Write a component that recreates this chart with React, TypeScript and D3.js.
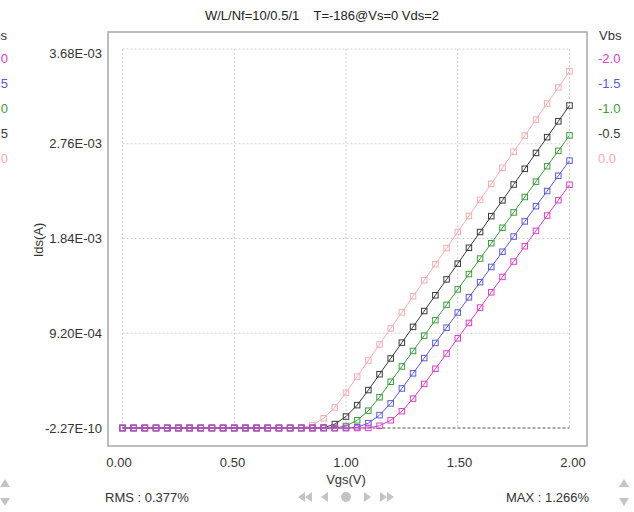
import React from "react";
import * as d3 from "d3";

const TITLE = "W/L/Nf=10/0.5/1    T=-186@Vs=0 Vds=2";
const X_TICKS = [0, 0.5, 1.0, 1.5, 2.0];
const X_TICK_LABELS = ["0.00", "0.50", "1.00", "1.50", "2.00"];
const Y_TICKS = [-2.27e-10, 9.2e-4, 1.84e-3, 2.76e-3, 3.68e-3];
const Y_TICK_LABELS = ["-2.27E-10", "9.20E-04", "1.84E-03", "2.76E-03", "3.68E-03"];
const VBS_LABELS = ["-2.0", "-1.5", "-1.0", "-0.5", "0.0"];
const VBS_COLORS = ["#e040c8", "#5a5ae0", "#3c9e3c", "#3a3a3a", "#ffacac"];

const VGS = [
  0.0, 0.05, 0.1, 0.15, 0.2, 0.25, 0.3, 0.35, 0.4, 0.45,
  0.5, 0.55, 0.6, 0.65, 0.7, 0.75, 0.8, 0.85, 0.9, 0.95,
  1.0, 1.05, 1.1, 1.15, 1.2, 1.25, 1.3, 1.35, 1.4, 1.45,
  1.5, 1.55, 1.6, 1.65, 1.7, 1.75, 1.8, 1.85, 1.9, 1.95, 2.0,
];

// Ids in mA
const IDS_VBS_M20 = [
  0, 0, 0, 0, 0, 0, 0, 0, 0, 0,
  0, 0, 0, 0, 0, 0, 0, 0, 0, 0,
  0, 0, 0.001, 0.022, 0.075, 0.163, 0.285, 0.428, 0.575, 0.723,
  0.871, 1.02, 1.169, 1.318, 1.467, 1.616, 1.765, 1.914, 2.063, 2.212, 2.362,
];
const IDS_VBS_M15 = [
  0, 0, 0, 0, 0, 0, 0, 0, 0, 0,
  0, 0, 0, 0, 0, 0, 0, 0, 0, 0,
  0, 0.007, 0.047, 0.125, 0.239, 0.384, 0.531, 0.679, 0.826, 0.974,
  1.121, 1.269, 1.416, 1.564, 1.711, 1.859, 2.006, 2.154, 2.301, 2.449, 2.596,
];
const IDS_VBS_M10 = [
  0, 0, 0, 0, 0, 0, 0, 0, 0, 0,
  0, 0, 0, 0, 0, 0, 0, 0, 0, 0,
  0.019, 0.075, 0.168, 0.299, 0.449, 0.598, 0.748, 0.897, 1.047, 1.196,
  1.346, 1.495, 1.645, 1.794, 1.944, 2.093, 2.243, 2.392, 2.542, 2.691, 2.841,
];
const IDS_VBS_M05 = [
  0, 0, 0, 0, 0, 0, 0, 0, 0, 0,
  0, 0, 0, 0, 0, 0, 0, 0, 0.003, 0.038,
  0.111, 0.222, 0.368, 0.522, 0.675, 0.829, 0.982, 1.136, 1.289, 1.443,
  1.596, 1.75, 1.903, 2.057, 2.21, 2.364, 2.517, 2.671, 2.824, 2.978, 3.131,
];
const IDS_VBS_00 = [
  0, 0, 0, 0, 0, 0, 0, 0, 0, 0,
  0, 0, 0, 0, 0, 0, 0.001, 0.028, 0.094, 0.2,
  0.343, 0.499, 0.655, 0.811, 0.967, 1.123, 1.279, 1.435, 1.591, 1.747,
  1.903, 2.059, 2.215, 2.371, 2.527, 2.683, 2.839, 2.995, 3.151, 3.307, 3.463,
];

const SERIES = [IDS_VBS_M20, IDS_VBS_M15, IDS_VBS_M10, IDS_VBS_M05, IDS_VBS_00];

const FONT = "'Liberation Sans', Arial, sans-serif";
const FS = 13;

export default function App() {
  const W = 634;
  const H = 512;
  const frame = { x: 108, y: 32, w: 479, h: 414 };
  const x = d3.scaleLinear().domain([0, 2]).range([122.5, 569.5]);
  const y = d3.scaleLinear().domain([-2.27e-10, 3.68e-3]).range([428, 49]);
  const line = d3
    .line<number>()
    .x((_, i) => x(VGS[i]))
    .y((d) => y(d * 1e-3));

  // draw pink first, magenta last (on top)
  const order = [4, 3, 2, 1, 0];
  const navY = 497;
  const navCx = 346;
  const gray = "#c4c4c4";

  return (
    <svg
      width={W}
      height={H}
      style={{ position: "absolute", left: 0, top: 0, background: "#fff" }}
      fontFamily={FONT}
    >
      <rect x={0} y={0} width={W} height={H} fill="#fff" />
      <text
        x={322}
        y={20}
        textAnchor="middle"
        fontSize={FS}
        fill="#222"
        style={{ whiteSpace: "pre" }}
      >
        {TITLE}
      </text>

      {/* frame */}
      <rect
        x={frame.x}
        y={frame.y}
        width={frame.w}
        height={frame.h}
        fill="#fff"
        stroke="#a8a8a8"
        strokeWidth={1.5}
      />

      {/* grid */}
      {X_TICKS.map((t, i) => (
        <line
          key={"gx" + i}
          x1={x(t)}
          x2={x(t)}
          y1={y(Y_TICKS[Y_TICKS.length - 1])}
          y2={y(Y_TICKS[0])}
          stroke="#cfcfcf"
          strokeDasharray="2,2"
        />
      ))}
      {Y_TICKS.map((t, i) => (
        <line
          key={"gy" + i}
          x1={x(0)}
          x2={x(2)}
          y1={y(t)}
          y2={y(t)}
          stroke={i === 0 ? "#555" : "#cfcfcf"}
          strokeDasharray={i === 0 ? "3,2" : "2,2"}
        />
      ))}

      {/* series */}
      {order.map((si) => (
        <g key={"s" + si}>
          <path d={line(SERIES[si]) || ""} fill="none" stroke={VBS_COLORS[si]} strokeWidth={1} />
          {SERIES[si].map((v, i) => (
            <rect
              key={i}
              x={x(VGS[i]) - 2.75}
              y={y(v * 1e-3) - 2.75}
              width={5.5}
              height={5.5}
              fill="none"
              stroke={VBS_COLORS[si]}
              strokeWidth={1}
            />
          ))}
        </g>
      ))}

      {/* y tick labels */}
      {Y_TICKS.map((t, i) => (
        <text
          key={"yl" + i}
          x={102}
          y={Math.max(y(t), 53) + 4.5}
          textAnchor="end"
          fontSize={FS}
          fill="#333"
        >
          {Y_TICK_LABELS[i]}
        </text>
      ))}
      {/* x tick labels */}
      {X_TICKS.map((t, i) => (
        <text
          key={"xl" + i}
          x={x(t) + (t - 1) * 3.5}
          y={467}
          textAnchor="middle"
          fontSize={FS}
          fill="#333"
        >
          {X_TICK_LABELS[i]}
        </text>
      ))}

      <text x={346} y={484} textAnchor="middle" fontSize={FS} fill="#333">
        Vgs(V)
      </text>
      <text
        transform="translate(43,240) rotate(-90)"
        textAnchor="middle"
        fontSize={FS}
        fill="#333"
      >
        Ids(A)
      </text>

      {/* legends */}
      <text x={599} y={40} fontSize={FS} fill="#333">Vbs</text>
      <text x={7} y={40} fontSize={FS} fill="#333" textAnchor="end">Vbs</text>
      {VBS_LABELS.map((l, i) => (
        <g key={"lg" + i}>
          <text x={598} y={63 + i * 25} fontSize={FS} fill={VBS_COLORS[i]}>
            {l}
          </text>
          <text x={8} y={63 + i * 25} fontSize={FS} fill={VBS_COLORS[i]} textAnchor="end">
            {l}
          </text>
        </g>
      ))}

      {/* bottom */}
      <text x={105} y={502} fontSize={FS} fill="#333">RMS : 0.377%</text>
      <text x={589} y={502} fontSize={FS} fill="#333" textAnchor="end">MAX : 1.266%</text>

      {/* nav icons */}
      <g fill={gray}>
        <path d={`M${navCx - 48},${navY} l7,-5 v10 z M${navCx - 41},${navY} l7,-5 v10 z`} />
        <path d={`M${navCx - 25},${navY} l7,-5 v10 z`} />
        <circle cx={navCx} cy={navY} r={5} />
        <path d={`M${navCx + 25},${navY} l-7,-5 v10 z`} />
        <path d={`M${navCx + 48},${navY} l-7,-5 v10 z M${navCx + 41},${navY} l-7,-5 v10 z`} />
      </g>

      {/* scroll arrows */}
      <g fill={gray}>
        <path d="M5,479 l5,8 h-10 z" />
        <path d="M5,506 l5,-8 h-10 z" />
        <path d="M624,479 l5,8 h-10 z" />
        <path d="M624,506 l5,-8 h-10 z" />
      </g>
    </svg>
  );
}
